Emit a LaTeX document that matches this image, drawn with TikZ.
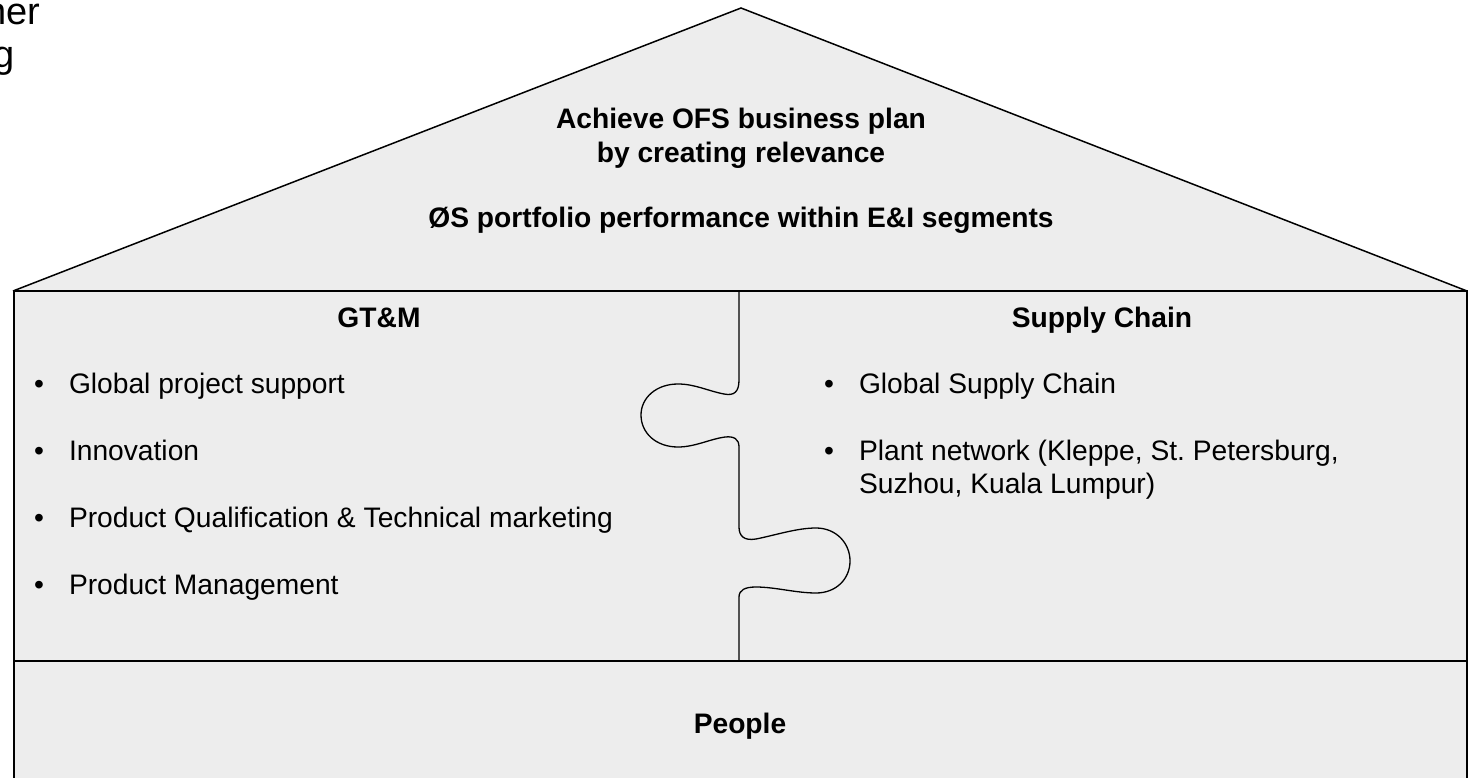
\documentclass[tikz,border=0pt]{standalone}
\usepackage{fontspec}
\setmainfont{Liberation Sans}
\frenchspacing
\definecolor{housefill}{RGB}{237,237,237}
\begin{document}
\begin{tikzpicture}[x=1pt,y=-1pt,
  every node/.style={inner sep=0pt,outer sep=0pt,font=\fontsize{28.2}{33}\selectfont},
  head/.style={anchor=base,font=\fontsize{28.2}{33}\selectfont\bfseries},
  item/.style={anchor=base west},
  dot/.style={anchor=base},
  edge/.style={line width=1.5pt,line join=miter}]
\useasboundingbox (0,0) rectangle (1472,778);
% house
\fill[housefill] (13,291) -- (741,8) -- (1467,291) -- (1467,790) -- (14,790) -- cycle;
\draw[edge] (13,291) -- (741,8) -- (1467,291);
\draw[edge] (14,790) -- (14,291) -- (1467,291) -- (1467,790);
\draw[edge] (14,661) -- (1467,661);
% puzzle divider
\draw[line width=1.3pt] (739,291) -- (739,380)
  .. controls (739,392) and (734,396) .. (724,394)
  .. controls (708,391) and (695,384) .. (678,384)
  .. controls (656,384) and (641,398) .. (641,415)
  .. controls (641,433) and (656,447) .. (678,447)
  .. controls (695,447) and (710,439) .. (725,437)
  .. controls (734,436) and (739,439) .. (739,447)
  -- (739,527)
  .. controls (739,536) and (744,541) .. (756,539)
  .. controls (776,535) and (797,528) .. (816,528)
  .. controls (836,528) and (850,543) .. (850,561)
  .. controls (850,579) and (836,593) .. (816,593)
  .. controls (796,593) and (775,587) .. (756,587)
  .. controls (745,587) and (739,590) .. (739,597)
  -- (739,661);
% roof text
\node[head] (t1) at (741,129) {Achieve OFS business plan};
\node[head] (t2) at (741,163) {by creating relevance};
\node[head] (t3) at (741,228) {ØS portfolio performance within E\&I segments};
% headings
\node[head] (gtm) at (379,327) {GT\&M};
\node[head] (sc) at (1102,327) {Supply Chain};
\node[head] (people) at (740,733) {People};
% left bullets
\node[dot] (b1) at (39,393) {•};
\node[item] (l1) at (69,393) {Global project support};
\node[dot] (b2) at (39,460) {•};
\node[item] (l2) at (69,460) {Innovation};
\node[dot] (b3) at (39,527) {•};
\node[item] (l3) at (69,527) {Product Qualification \& Technical marketing};
\node[dot] (b4) at (39,594) {•};
\node[item] (l4) at (69,594) {Product Management};
% right bullets
\node[dot] (b5) at (829,393) {•};
\node[item] (r1) at (859,393) {Global Supply Chain};
\node[dot] (b6) at (829,460) {•};
\node[item] (r2) at (859,460) {Plant network (Kleppe, St. Petersburg,};
\node[item] (r3) at (859,493) {Suzhou, Kuala Lumpur)};
% cut-off text at top left (cut off in the reference too)
\node[anchor=base east,font=\fontsize{38}{44}\selectfont] (c1) at (40,25) {ner};
\node[anchor=base east,font=\fontsize{38}{44}\selectfont] (c2) at (15,68) {g};
\end{tikzpicture}
\end{document}
